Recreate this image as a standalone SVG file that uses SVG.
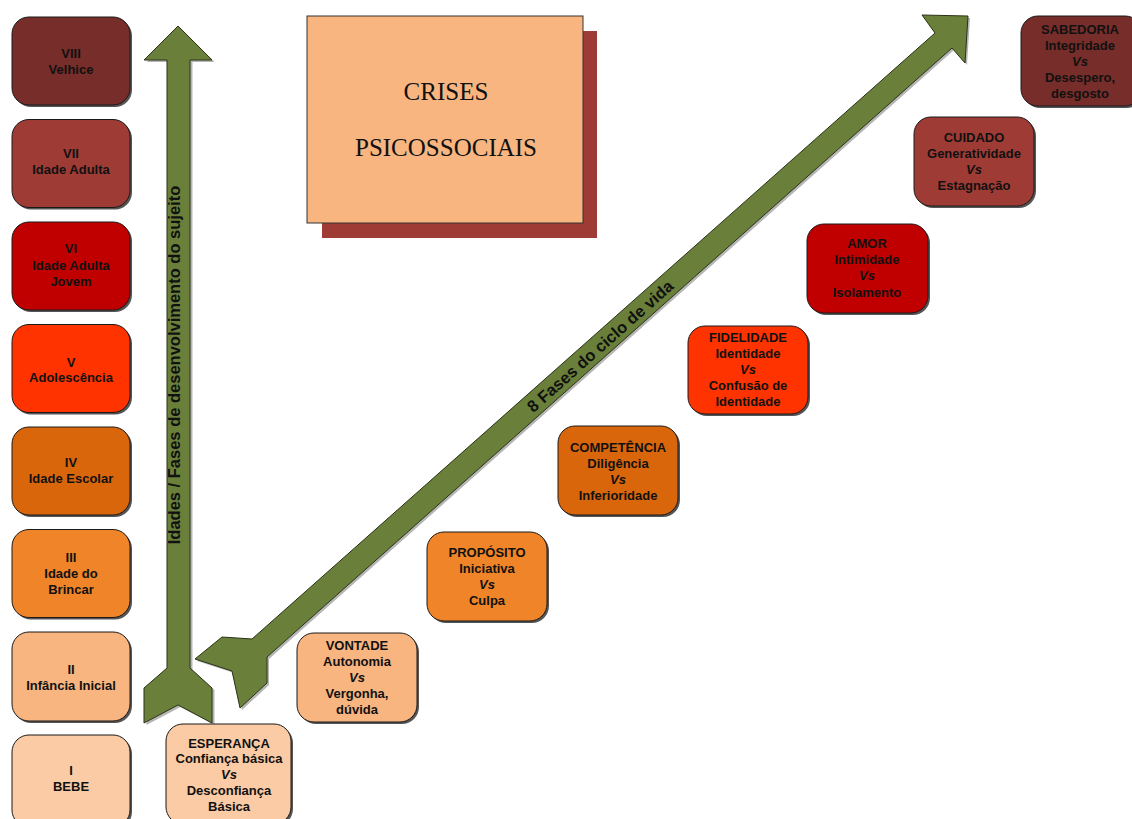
<svg xmlns="http://www.w3.org/2000/svg" width="1132" height="819" viewBox="0 0 1132 819">
<style>
.sh{fill:#555;}
.bx{stroke:#1a1a1a;stroke-width:1;}
.t{font-family:"Liberation Sans",Arial,sans-serif;font-weight:bold;font-size:13px;fill:#111;text-anchor:middle;}
.i{font-style:italic;}
.arr{fill:#6A803A;stroke:#2a3318;stroke-width:1;}
.ash{fill:#b5b5b5;}
.at{font-family:"Liberation Sans",Arial,sans-serif;font-weight:bold;font-size:16.5px;fill:#111;text-anchor:middle;}
.tt{font-family:"Liberation Serif","Times New Roman",serif;font-size:25px;fill:#111;text-anchor:middle;}
</style>
<rect width="1132" height="819" fill="#fff"/>

<g id="title">
<rect x="322" y="31" width="275" height="207" fill="#9F3B35"/>
<rect x="307" y="16" width="276" height="207" fill="#F8B580" stroke="#333" stroke-width="1"/>
<text class="tt" x="446" y="100">CRISES</text>
<text class="tt" x="446" y="156">PSICOSSOCIAIS</text>
</g>

<g id="connectors">
<polygon class="ash" transform="translate(2.5,2)" points="178,26 212,60 190,60 190,668 212,688 212,723 178,705 144,723 144,688 167,668 167,60 144,60"/>
<polygon id="arrow-vertical" class="arr" points="178,26 212,60 190,60 190,668 212,688 212,723 178,705 144,723 144,688 167,668 167,60 144,60"/>
<polygon class="ash" transform="translate(2,2)" points="968,16 965,63 952,48 267,657 267,683 240,708 232,671 195,659 222,637 252,639 935,33 922,15"/>
<polygon id="arrow-diagonal" class="arr" points="968,16 965,63 952,48 267,657 267,683 240,708 232,671 195,659 222,637 252,639 935,33 922,15"/>
<text class="at" transform="translate(180,365) rotate(-90)">Idades / Fases de desenvolvimento do sujeito</text>
<text class="at" transform="translate(600,346) rotate(-41.6)" y="6">8 Fases do ciclo de vida</text>
</g>

<g id="age8">
<rect class="sh" x="14" y="19" width="118" height="88" rx="17"/>
<rect class="bx" x="12" y="17" width="118" height="88" rx="17" fill="#772D29"/>
<text class="t" x="71" y="58">VIII</text><text class="t" x="71" y="74">Velhice</text>
</g>
<g id="age7">
<rect class="sh" x="14" y="121.5" width="118" height="88" rx="17"/>
<rect class="bx" x="12" y="119.5" width="118" height="88" rx="17" fill="#9F3B35"/>
<text class="t" x="71" y="158">VII</text><text class="t" x="71" y="174">Idade Adulta</text>
</g>
<g id="age6">
<rect class="sh" x="14" y="224" width="118" height="88" rx="17"/>
<rect class="bx" x="12" y="222" width="118" height="88" rx="17" fill="#C00000"/>
<text class="t" x="71" y="253">VI</text><text class="t" x="71" y="270">Idade Adulta</text><text class="t" x="71" y="286">Jovem</text>
</g>
<g id="age5">
<rect class="sh" x="14" y="326.5" width="118" height="88" rx="17"/>
<rect class="bx" x="12" y="324.5" width="118" height="88" rx="17" fill="#FF3300"/>
<text class="t" x="71" y="366.5">V</text><text class="t" x="71" y="382">Adolescência</text>
</g>
<g id="age4">
<rect class="sh" x="14" y="429" width="118" height="88" rx="17"/>
<rect class="bx" x="12" y="427" width="118" height="88" rx="17" fill="#DA660C"/>
<text class="t" x="71" y="467">IV</text><text class="t" x="71" y="483">Idade Escolar</text>
</g>
<g id="age3">
<rect class="sh" x="14" y="531.5" width="118" height="88" rx="17"/>
<rect class="bx" x="12" y="529.5" width="118" height="88" rx="17" fill="#F08428"/>
<text class="t" x="71" y="562">III</text><text class="t" x="71" y="578">Idade do</text><text class="t" x="71" y="594">Brincar</text>
</g>
<g id="age2">
<rect class="sh" x="14" y="634" width="118" height="89" rx="17"/>
<rect class="bx" x="12" y="632" width="118" height="89" rx="17" fill="#F8B580"/>
<text class="t" x="71" y="674">II</text><text class="t" x="71" y="690">Infância Inicial</text>
</g>
<g id="age1">
<rect class="sh" x="14" y="737" width="118" height="92" rx="17"/>
<rect class="bx" x="12" y="735" width="118" height="92" rx="17" fill="#FBCBA5"/>
<text class="t" x="71" y="775">I</text><text class="t" x="71" y="791">BEBE</text>
</g>

<g id="crisis1">
<rect class="sh" x="168" y="726" width="125" height="100" rx="17"/>
<rect class="bx" x="166" y="724" width="125" height="100" rx="17" fill="#FBCBA5"/>
<text class="t" x="229" y="747.5">ESPERANÇA</text><text class="t" x="229" y="763">Confiança básica</text><text class="t i" x="229" y="779">Vs</text><text class="t" x="229" y="795">Desconfiança</text><text class="t" x="229" y="811">Básica</text>
</g>
<g id="crisis2">
<rect class="sh" x="299" y="635" width="120" height="89" rx="17"/>
<rect class="bx" x="297" y="633" width="120" height="89" rx="17" fill="#F8B580"/>
<text class="t" x="357" y="650">VONTADE</text><text class="t" x="357" y="666">Autonomia</text><text class="t i" x="357" y="682">Vs</text><text class="t" x="357" y="698">Vergonha,</text><text class="t" x="357" y="714">dúvida</text>
</g>
<g id="crisis3">
<rect class="sh" x="429" y="534" width="120" height="89" rx="17"/>
<rect class="bx" x="427" y="532" width="120" height="89" rx="17" fill="#F08428"/>
<text class="t" x="487" y="556.5">PROPÓSITO</text><text class="t" x="487" y="572.5">Iniciativa</text><text class="t i" x="487" y="588.5">Vs</text><text class="t" x="487" y="604.5">Culpa</text>
</g>
<g id="crisis4">
<rect class="sh" x="560" y="428" width="120" height="89" rx="17"/>
<rect class="bx" x="558" y="426" width="120" height="89" rx="17" fill="#DA660C"/>
<text class="t" x="618" y="451.5">COMPETÊNCIA</text><text class="t" x="618" y="467.5">Diligência</text><text class="t i" x="618" y="483.5">Vs</text><text class="t" x="618" y="499.5">Inferioridade</text>
</g>
<g id="crisis5">
<rect class="sh" x="690" y="328" width="120" height="88" rx="17"/>
<rect class="bx" x="688" y="326" width="120" height="88" rx="17" fill="#FF3300"/>
<text class="t" x="748" y="341.5">FIDELIDADE</text><text class="t" x="748" y="357.5">Identidade</text><text class="t i" x="748" y="373.5">Vs</text><text class="t" x="748" y="389.5">Confusão de</text><text class="t" x="748" y="405.5">Identidade</text>
</g>
<g id="crisis6">
<rect class="sh" x="809" y="226" width="121" height="89" rx="17"/>
<rect class="bx" x="807" y="224" width="121" height="89" rx="17" fill="#C00000"/>
<text class="t" x="867" y="247.5">AMOR</text><text class="t" x="867" y="264">Intimidade</text><text class="t i" x="867" y="280">Vs</text><text class="t" x="867" y="296.5">Isolamento</text>
</g>
<g id="crisis7">
<rect class="sh" x="916" y="119" width="120" height="89" rx="17"/>
<rect class="bx" x="914" y="117" width="120" height="89" rx="17" fill="#9F3B35"/>
<text class="t" x="974" y="141.5">CUIDADO</text><text class="t" x="974" y="157.5">Generatividade</text><text class="t i" x="974" y="173.5">Vs</text><text class="t" x="974" y="190">Estagnação</text>
</g>
<g id="crisis8">
<rect class="sh" x="1023" y="18" width="121" height="90" rx="17"/>
<rect class="bx" x="1021" y="16" width="121" height="90" rx="17" fill="#772D29"/>
<text class="t" x="1080" y="33.5">SABEDORIA</text><text class="t" x="1080" y="49.5">Integridade</text><text class="t i" x="1080" y="65.5">Vs</text><text class="t" x="1080" y="81.5">Desespero,</text><text class="t" x="1080" y="97.5">desgosto</text>
</g>
</svg>
